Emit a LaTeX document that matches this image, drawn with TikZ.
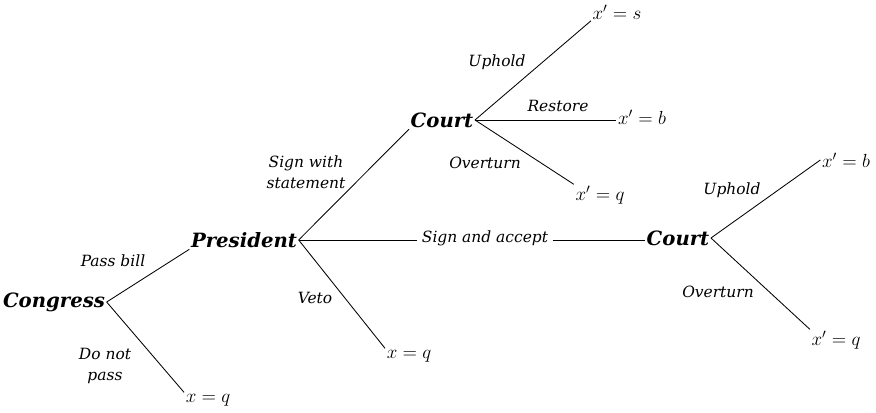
\RequirePackage{fix-cm}
\documentclass[tikz,border=0pt]{standalone}
\usepackage{fontspec}
\setmainfont{DejaVu Serif}
\usetikzlibrary{positioning}

\begin{document}
\begin{tikzpicture}[x=0.025cm,y=-0.025cm,
    player/.style={font=\fontsize{14}{16}\selectfont\bfseries\itshape,inner sep=1pt},
    act/.style={font=\fontsize{11}{15}\selectfont\itshape,inner sep=1pt,align=center},
    pay/.style={font=\fontsize{13.5}{15}\selectfont,inner sep=1pt},
    branch/.style={line width=0.6pt}]
  \useasboundingbox (0,0) rectangle (876,413);
  % Decision nodes
  \node[player] (cong)   at (54,302)  {Congress};
  \node[player] (pres)   at (244,240) {President};
  \node[player] (court1) at (442,120) {Court};
  \node[player] (court2) at (678,238) {Court};
  % Outcomes
  \node[pay] (xq1) at (208,400) {$x = q$};
  \node[pay] (xq2) at (409,356) {$x = q$};
  \node[pay] (xs1) at (617,12)  {$x' = s$};
  \node[pay] (xb1) at (642,117) {$x' = b$};
  \node[pay] (xq3) at (600,195) {$x' = q$};
  \node[pay] (xb2) at (846,160) {$x' = b$};
  \node[pay] (xq4) at (836,340) {$x' = q$};
  % Branches
  \draw[branch] (cong.east) -- (pres.south west);
  \draw[branch] (cong.east) -- (xq1.north west);
  \draw[branch] (pres.east) -- (court1.south west);
  \node[act,inner sep=3pt] (accept) at (485,238) {Sign and accept};
  \draw[branch] (pres.east) -- (pres.east -| accept.west);
  \draw[branch] (pres.east -| accept.east) -- (pres.east -| court2.west);
  \draw[branch] (pres.east) -- (xq2.north west);
  \draw[branch] (court1.east) -- (xs1.south west);
  \draw[branch] (court1.east) -- (court1.east -| xb1.west);
  \draw[branch] (court1.east) -- (xq3.north west);
  \draw[branch] (court2.east) -- (xb2.west);
  \draw[branch] (court2.east) -- (xq4.north west);
  % Action labels
  \node[act] (pass)  at (113,261) {Pass bill};
  \node[act] (nopass) at (105,366) {Do not\\pass};
  \node[act] (stmt)  at (306,172) {Sign with\\statement};
  \node[act] (veto)  at (315,298) {Veto};
  \node[act] (up1)   at (497,62)  {Uphold};
  \node[act] (rest)  at (558,106) {Restore};
  \node[act] (ov1)   at (485,163) {Overturn};
  \node[act] (up2)   at (732,190) {Uphold};
  \node[act] (ov2)   at (718,292) {Overturn};
\end{tikzpicture}
\end{document}
